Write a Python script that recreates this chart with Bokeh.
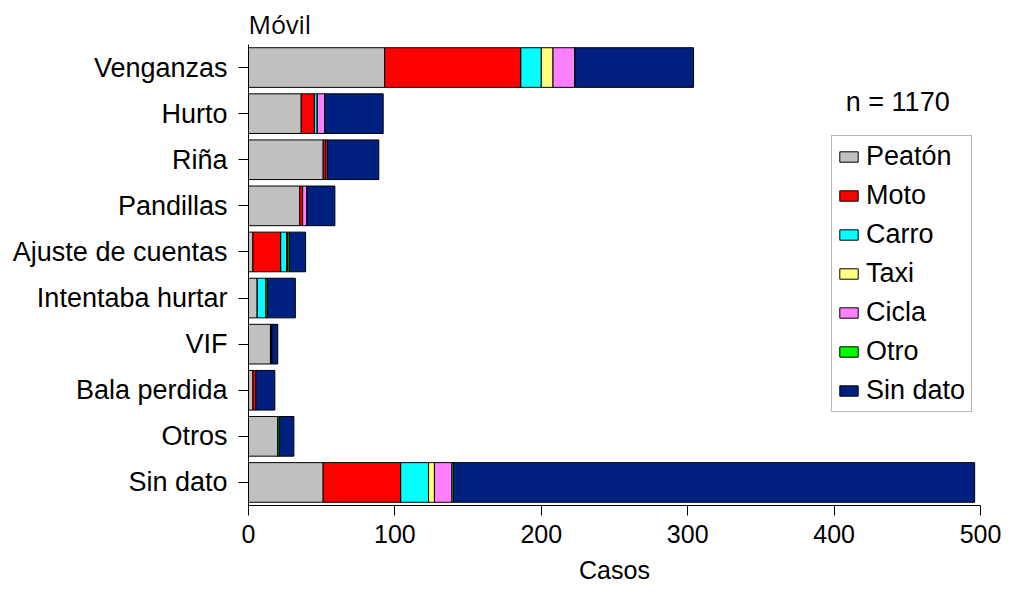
from bokeh.plotting import figure
from bokeh.models import ColumnDataSource, Legend, LegendItem, Label, FactorRange, Title
from bokeh.embed import file_html
from bokeh.resources import INLINE

categories = ["Venganzas", "Hurto", "Riña", "Pandillas", "Ajuste de cuentas",
              "Intentaba hurtar", "VIF", "Bala perdida", "Otros", "Sin dato"]
series_names = ["Peatón", "Moto", "Carro", "Taxi", "Cicla", "Otro", "Sin dato"]
peaton   = [93, 36, 51, 35, 3, 6, 15, 3, 20, 51]
moto     = [93, 9, 2, 2, 19, 0, 1, 2, 0, 53]
carro    = [14, 2, 0, 0, 4, 6, 0, 0, 0, 19]
taxi     = [8, 0, 0, 0, 1, 0, 0, 0, 0, 4]
cicla    = [15, 5, 1, 3, 0, 0, 0, 0, 0, 12]
otro     = [0, 0, 0, 0, 1, 1, 0, 0, 1, 1]
sin_dato = [81, 40, 35, 19, 11, 19, 4, 13, 10, 356]
x_ticks = [0, 100, 200, 300, 400, 500]
x_title = "Casos"
n_text = "n = 1170"

colors = ["#C0C0C0", "#FF0000", "#00FFFF", "#FFFF80", "#FF80FF", "#00FF00", "#002080"]
keys = ["peaton", "moto", "carro", "taxi", "cicla", "otro", "sin_dato"]

src = ColumnDataSource(dict(cat=categories, peaton=peaton, moto=moto, carro=carro,
                            taxi=taxi, cicla=cicla, otro=otro, sin_dato=sin_dato))

FONT = "Liberation Sans"
W, H = 1014, 596

p = figure(width=W, height=H, output_backend="svg", toolbar_location=None,
           y_range=FactorRange(factors=list(reversed(categories)), range_padding=0),
           x_range=(0, 500),
           min_border_left=248, min_border_right=W - 980, min_border_top=43,
           min_border_bottom=H - 505,
           title="Móvil")
p.title.text_font = "Open Sans"
p.title.text_font_size = "25px"
p.title.text_font_style = "normal"
p.title.align = "left"
p.title.standoff = 8
p.title.text_color = "black"

renderers = p.hbar_stack(keys, y="cat", height=0.86, color=colors, source=src,
                         line_color="black", line_width=1)

p.outline_line_color = None
p.xgrid.grid_line_color = None
p.ygrid.grid_line_color = None

p.xaxis.ticker = x_ticks
for ax in (p.xaxis[0], p.yaxis[0]):
    ax.axis_line_color = "black"
    ax.major_tick_line_color = "black"
    ax.major_tick_out = 10
    ax.major_tick_in = 0
    ax.minor_tick_line_color = None
    ax.major_label_text_font = FONT
    ax.major_label_text_color = "black"
p.yaxis.major_label_text_font_size = "27px"
p.xaxis.major_label_text_font_size = "25px"
p.yaxis.major_label_standoff = 11
p.xaxis.major_label_standoff = 9

# x-axis title as a title panel below the axis
xt = Title(text=x_title, align="center", text_font=FONT, text_font_size="25px",
           text_font_style="normal", text_color="black", standoff=16)
p.add_layout(xt, "below")

legend = Legend(items=[LegendItem(label=n, renderers=[r]) for n, r in zip(series_names, renderers)],
                location=(583, 93))
legend.label_text_font = FONT
legend.label_text_font_size = "27px"
legend.label_text_color = "black"
legend.glyph_width = 23
legend.glyph_height = 13
legend.label_height = 26
legend.label_width = 100
legend.label_standoff = 6
legend.spacing = 8
legend.padding = 5
legend.margin = 0
legend.border_line_color = "#707070"
legend.border_line_width = 1
legend.background_fill_alpha = 1
p.add_layout(legend, "center")

p.add_layout(Label(x=408, y=8.75, text=n_text, text_font=FONT, text_font_size="27px",
                   text_baseline="middle", text_align="left", text_color="black"))

open("out.html", "w").write(file_html(p, INLINE))
